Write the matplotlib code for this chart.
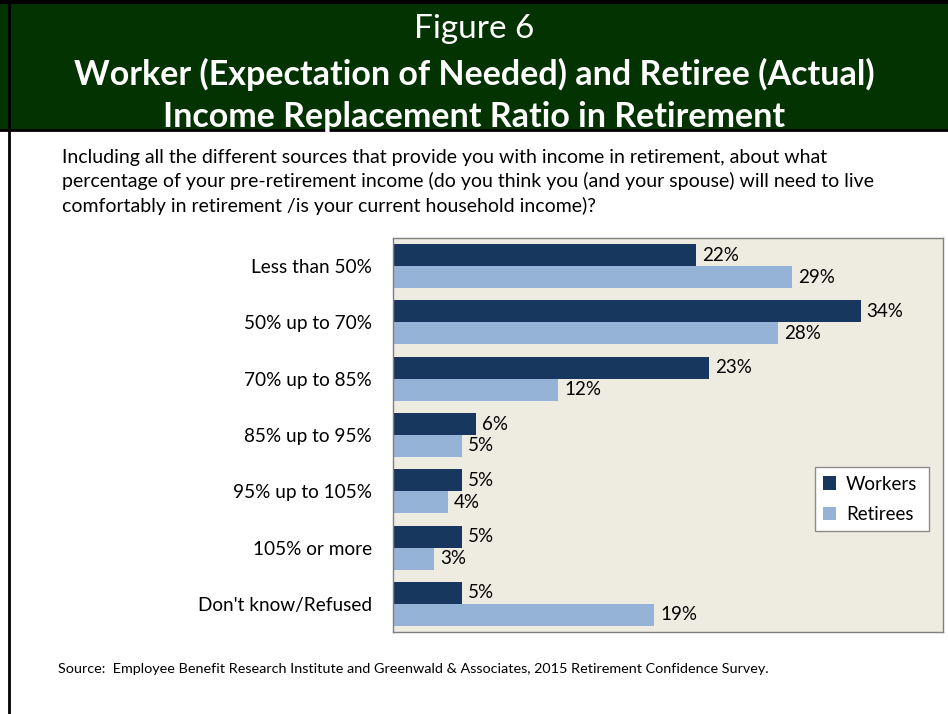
import numpy as np
import matplotlib.pyplot as plt
from matplotlib.patches import Rectangle
from matplotlib.lines import Line2D

categories = ["Less than 50%", "50% up to 70%", "70% up to 85%", "85% up to 95%",
              "95% up to 105%", "105% or more", "Don't know/Refused"]
workers = [22, 34, 23, 6, 5, 5, 5]
retirees = [29, 28, 12, 5, 4, 3, 19]

title_small = "Figure 6"
title_line1 = "Worker (Expectation of Needed) and Retiree (Actual)"
title_line2 = "Income Replacement Ratio in Retirement"
question = ("Including all the different sources that provide you with income in retirement, about what\n"
            "percentage of your pre-retirement income (do you think you (and your spouse) will need to live\n"
            "comfortably in retirement /is your current household income)?")
source = "Source:  Employee Benefit Research Institute and Greenwald & Associates, 2015 Retirement Confidence Survey."

W, H = 948, 714
plt.rcParams['font.family'] = ['Lato', 'DejaVu Sans']

fig = plt.figure(figsize=(W / 100, H / 100), dpi=100)
fig.patch.set_facecolor("white")


def fx(px):
    return px / W


def fy(py):
    return 1 - py / H


# header band
fig.patches.append(Rectangle((0, fy(131)), 1, 131 / H, transform=fig.transFigure,
                             facecolor="#033300", edgecolor="none", zorder=0))
fig.add_artist(Line2D([0, 1], [fy(2), fy(2)], transform=fig.transFigure, color="black", lw=3))
fig.add_artist(Line2D([0, 1], [fy(130), fy(130)], transform=fig.transFigure, color="black", lw=2))
fig.add_artist(Line2D([fx(9), fx(9)], [0, 1], transform=fig.transFigure, color="black", lw=2))

fig.text(0.5, fy(29), title_small, ha="center", va="center", color="white", fontsize=24)
fig.text(0.5, fy(74), title_line1, ha="center", va="center", color="white", fontsize=24.5,
         fontweight="bold")
fig.text(0.5, fy(117), title_line2, ha="center", va="center", color="white", fontsize=24.5,
         fontweight="bold")
fig.text(fx(62), fy(182), question, ha="left", va="center", color="black", fontsize=14,
         linespacing=1.42)
fig.text(fx(58), fy(669), source, ha="left", va="center", color="black", fontsize=10.4)

ax = fig.add_axes([fx(393), 1 - 632 / H, 550 / W, 394 / H])
ax.set_facecolor("#EEEBE0")

y = np.arange(len(categories))
h = 0.39
ax.barh(y - h / 2, workers, height=h, color="#17375E", label="Workers")
ax.barh(y + h / 2, retirees, height=h, color="#95B3D7", label="Retirees")

for i in range(len(categories)):
    ax.text(workers[i] + 0.45, y[i] - h / 2, f"{workers[i]}%", va="center", ha="left", fontsize=13.5)
    ax.text(retirees[i] + 0.45, y[i] + h / 2, f"{retirees[i]}%", va="center", ha="left", fontsize=13.5)

ax.set_xlim(0, 40)
ax.set_ylim(len(categories) - 0.5, -0.5)
ax.set_yticks(y)
ax.set_yticklabels(categories, fontsize=13.7)
ax.tick_params(axis="y", length=0, pad=15)
ax.set_xticks([])
for s in ax.spines.values():
    s.set_color("#7F7F7F")
    s.set_linewidth(1)

leg = ax.legend(loc="lower left", bbox_to_anchor=(0.767, 0.256, 0.208, 0.168), mode="expand",
                fontsize=13.5, frameon=True, fancybox=False, handlelength=0.7, handleheight=0.7,
                borderaxespad=0, labelspacing=0.7, handletextpad=0.5, borderpad=0.45)
leg.get_frame().set_edgecolor("#8C8C8C")
leg.get_frame().set_facecolor("white")
leg.get_frame().set_alpha(1)

fig.savefig("out.png", dpi=100)
